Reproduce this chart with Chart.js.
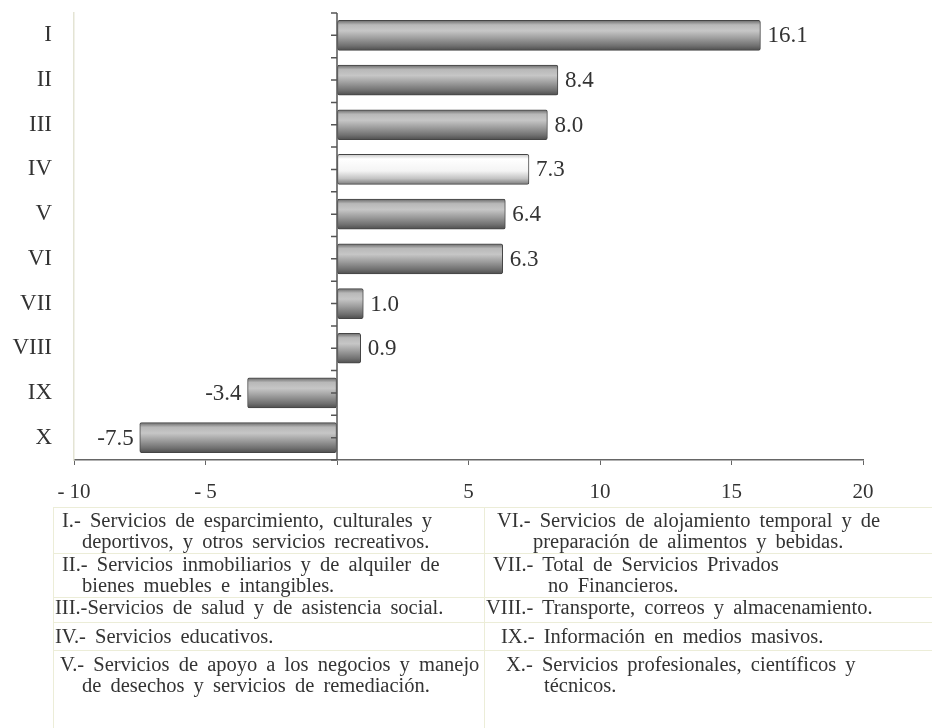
<!DOCTYPE html>
<html>
<head>
<meta charset="utf-8">
<script src="https://cdn.jsdelivr.net/npm/chart.js@4/dist/chart.umd.min.js"></script>
<style>
  body { margin: 0; background: #fff; }
  #wrap { position: relative; width: 932px; height: 728px; }
  #box { position: absolute; left: 0; top: 0; width: 932px; height: 510px; }
  #leyenda { position: absolute; left: 0; top: 0; width: 932px; height: 728px;
    font-family: "Liberation Serif", "Times New Roman", serif; font-size: 20.5px; color: #333;
    word-spacing: 4px; }
  #leyenda .t { position: absolute; white-space: nowrap; line-height: 21px; }
  #leyenda .h { position: absolute; height: 1px; background: #ecedd8; }
  #leyenda .v { position: absolute; width: 1px; background: #ecedd8; }
</style>
</head>
<body>
<div id="wrap">
  <div id="box"><canvas id="myChart"></canvas></div>
  <div id="leyenda">
    <div class="h" style="left:53px;top:507px;width:879px"></div>
    <div class="h" style="left:53px;top:553px;width:879px"></div>
    <div class="h" style="left:53px;top:597px;width:879px"></div>
    <div class="h" style="left:53px;top:622px;width:879px"></div>
    <div class="h" style="left:53px;top:650px;width:879px"></div>
    <div class="v" style="left:53px;top:507px;height:221px"></div>
    <div class="v" style="left:484px;top:507px;height:221px"></div>

    <div class="t" style="left:62px;top:510px">I.- Servicios de esparcimiento, culturales y</div>
    <div class="t" style="left:82px;top:531px">deportivos, y otros servicios recreativos.</div>
    <div class="t" style="left:62px;top:554px">II.- Servicios inmobiliarios y de alquiler de</div>
    <div class="t" style="left:82px;top:575px">bienes muebles e intangibles.</div>
    <div class="t" style="left:55px;top:597px">III.-Servicios de salud y de asistencia social.</div>
    <div class="t" style="left:55px;top:626px">IV.- Servicios educativos.</div>
    <div class="t" style="left:60px;top:654px">V.- Servicios de apoyo a los negocios y manejo</div>
    <div class="t" style="left:82px;top:675px">de desechos y servicios de remediación.</div>

    <div class="t" style="left:497px;top:510px">VI.- Servicios de alojamiento temporal y de</div>
    <div class="t" style="left:533px;top:531px">preparación de alimentos y bebidas.</div>
    <div class="t" style="left:493px;top:554px">VII.- Total de Servicios Privados</div>
    <div class="t" style="left:548px;top:575px">no Financieros.</div>
    <div class="t" style="left:486px;top:597px">VIII.- Transporte, correos y almacenamiento.</div>
    <div class="t" style="left:501px;top:626px">IX.- Información en medios masivos.</div>
    <div class="t" style="left:506px;top:654px">X.- Servicios profesionales, científicos y</div>
    <div class="t" style="left:544px;top:675px">técnicos.</div>
  </div>
</div>
<script>
// datos
const categorias = ["I", "II", "III", "IV", "V", "VI", "VII", "VIII", "IX", "X"];
const valores = [16.1, 8.4, 8.0, 7.3, 6.4, 6.3, 1.0, 0.9, -3.4, -7.5];
const destacado = "IV";
const ticksX = [-10, -5, 0, 5, 10, 15, 20];

const serif = "'Liberation Serif', 'Times New Roman', serif";

// gradiente tipo cilindro por barra
function relleno(ctx) {
  const chart = ctx.chart;
  const y = chart.scales.y;
  if (!chart.chartArea || !y) return "#999";
  const yc = y.getPixelForValue(ctx.dataIndex);
  const h = 15;
  const g = chart.ctx.createLinearGradient(0, yc - h, 0, yc + h);
  if (categorias[ctx.dataIndex] === destacado) {
    g.addColorStop(0, "#c8c8c8");
    g.addColorStop(0.15, "#ffffff");
    g.addColorStop(0.55, "#f4f4f4");
    g.addColorStop(0.8, "#c4c4c4");
    g.addColorStop(1, "#7a7a7a");
  } else {
    g.addColorStop(0, "#6a6a6a");
    g.addColorStop(0.15, "#b8b8b8");
    g.addColorStop(0.35, "#c6c6c6");
    g.addColorStop(0.6, "#9c9c9c");
    g.addColorStop(0.85, "#707070");
    g.addColorStop(1, "#4e4e4e");
  }
  return g;
}

// eje en cero con marcas, y etiquetas de valor
const ejeCero = {
  id: "ejeCero",
  afterDatasetsDraw(chart) {
    const { ctx, chartArea, scales } = chart;
    const x0 = scales.x.getPixelForValue(0);
    ctx.save();
    ctx.strokeStyle = "#555";
    ctx.lineWidth = 1.5;
    ctx.beginPath();
    ctx.moveTo(x0, chartArea.top);
    ctx.lineTo(x0, chartArea.bottom);
    const paso = (chartArea.bottom - chartArea.top) / categorias.length;
    for (let k = 0; k <= categorias.length * 2; k++) {
      const yy = chartArea.top + k * paso / 2;
      ctx.moveTo(x0 - 6, yy);
      ctx.lineTo(x0, yy);
    }
    ctx.stroke();

    ctx.fillStyle = "#333";
    ctx.font = "23px " + serif;
    ctx.textBaseline = "middle";
    chart.getDatasetMeta(0).data.forEach((bar, i) => {
      const v = valores[i];
      if (v >= 0) {
        ctx.textAlign = "left";
        ctx.fillText(v.toFixed(1), bar.x + 7, bar.y + 1);
      } else {
        ctx.textAlign = "right";
        ctx.fillText(v.toFixed(1), bar.x - 6, bar.y + 1);
      }
    });
    ctx.restore();
  },
};

const data = {
  labels: categorias,
  datasets: [
    {
      data: valores,
      backgroundColor: relleno,
      borderColor: "#454545",
      borderWidth: 1,
      borderSkipped: false,
      borderRadius: 2,
      barThickness: 30,
    },
  ],
};

const config = {
  type: "bar",
  data: data,
  plugins: [ejeCero],
  options: {
    indexAxis: "y",
    responsive: true,
    maintainAspectRatio: false,
    animation: false,
    layout: { padding: { top: 13, right: 69, bottom: 5, left: 0 } },
    scales: {
      x: {
        min: -10,
        max: 20,
        afterFit: (s) => {
          s.height = 45;
          s.paddingLeft = 0;
          s.paddingRight = 0;
        },
        afterBuildTicks: (s) => { s.ticks = ticksX.map((v) => ({ value: v })); },
        ticks: {
          padding: 15,
          color: "#333",
          font: { family: serif, size: 21 },
          callback: (v) => (v < 0 ? "- " + Math.abs(v) : v === 0 ? "" : String(v)),
          maxRotation: 0,
        },
        grid: { drawOnChartArea: false, tickLength: 5, color: "#666" },
        border: { color: "#666", width: 1.5 },
      },
      y: {
        afterFit: (s) => {
          s.width = 74;
          s.paddingTop = 0;
          s.paddingBottom = 0;
        },
        ticks: {
          padding: 22,
          color: "#333",
          font: { family: serif, size: 23 },
        },
        grid: { drawOnChartArea: false, drawTicks: false, color: "transparent" },
        border: { color: "#e4e4d4", width: 1.5 },
      },
    },
    plugins: {
      legend: { display: false },
      tooltip: { enabled: false },
    },
  },
};
const myChart = new Chart(document.getElementById("myChart"), config);
</script>
</body>
</html>
